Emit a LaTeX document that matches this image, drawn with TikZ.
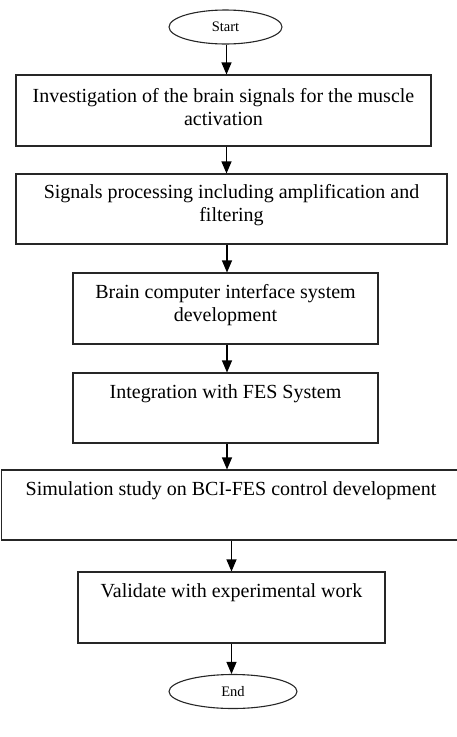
\documentclass[tikz,border=0pt]{standalone}
\usepackage{fontspec}
\setmainfont{Liberation Serif}
\usetikzlibrary{arrows.meta,shapes.geometric}
\begin{document}
\begin{tikzpicture}[x=1pt,y=-1pt,
  stepbox/.style={draw=black!85, line width=1.1pt, rectangle, inner sep=0pt},
  term/.style={draw=black!85, line width=1.1pt, ellipse, inner sep=0pt, font=\fontsize{14.5}{17}\selectfont},
  txt/.style={align=center, inner sep=0pt, font=\fontsize{20}{23}\selectfont},
  txtone/.style={txt, text height=14pt, text depth=5pt},
  arr/.style={draw=black, line width=1.1pt, -{Triangle[length=12pt,width=10pt]}}]
\clip (0,0) rectangle (457,737);
% terminals
\node[term, minimum width=113pt, minimum height=34pt] (start) at (225.5,27) {Start};
\node[term, minimum width=128pt, minimum height=34pt] (end) at (233,691.5) {End};
% boxes
\node[stepbox, minimum width=415pt, minimum height=71pt] (b1) at (223.5,110.5) {};
\node[stepbox, minimum width=431pt, minimum height=70pt] (b2) at (231.5,209) {};
\node[stepbox, minimum width=305pt, minimum height=71pt] (b3) at (225.5,308.5) {};
\node[stepbox, minimum width=305pt, minimum height=70pt] (b4) at (225.5,408) {};
\node[stepbox, minimum width=459pt, minimum height=70pt] (b5) at (231,505) {};
\node[stepbox, minimum width=307pt, minimum height=71pt] (b6) at (231.5,607.5) {};
% texts
\node[txt] (t1) at (223.5,107) {Investigation of the brain signals for the muscle\\activation};
\node[txt] (t2) at (231.5,205.5) {Signals processing including amplification and\\filtering};
\node[txt] (t3) at (225.5,305.5) {Brain computer interface system\\development};
\node[txtone] (t4) at (225.5,394) {Integration with FES System};
\node[txtone] (t5) at (231,491) {Simulation study on BCI-FES control development};
\node[txtone] (t6) at (231.5,593) {Validate with experimental work};
% connectors
\draw[arr] ([xshift=1pt]start.south) -- ([xshift=1pt]start.south |- b1.north);
\draw[arr] ([xshift=3pt]b1.south) -- ([xshift=3pt]b1.south |- b2.north);
\draw[arr] ([xshift=1.5pt]b3.north |- b2.south) -- ([xshift=1.5pt]b3.north);
\draw[arr] ([xshift=1.5pt]b3.south) -- ([xshift=1.5pt]b4.north);
\draw[arr] ([xshift=1.5pt]b4.south) -- ([xshift=1.5pt]b4.south |- b5.north);
\draw[arr] (b6.north |- b5.south) -- (b6.north);
\draw[arr] (b6.south) -- (b6.south |- end.north);
\end{tikzpicture}
\end{document}
